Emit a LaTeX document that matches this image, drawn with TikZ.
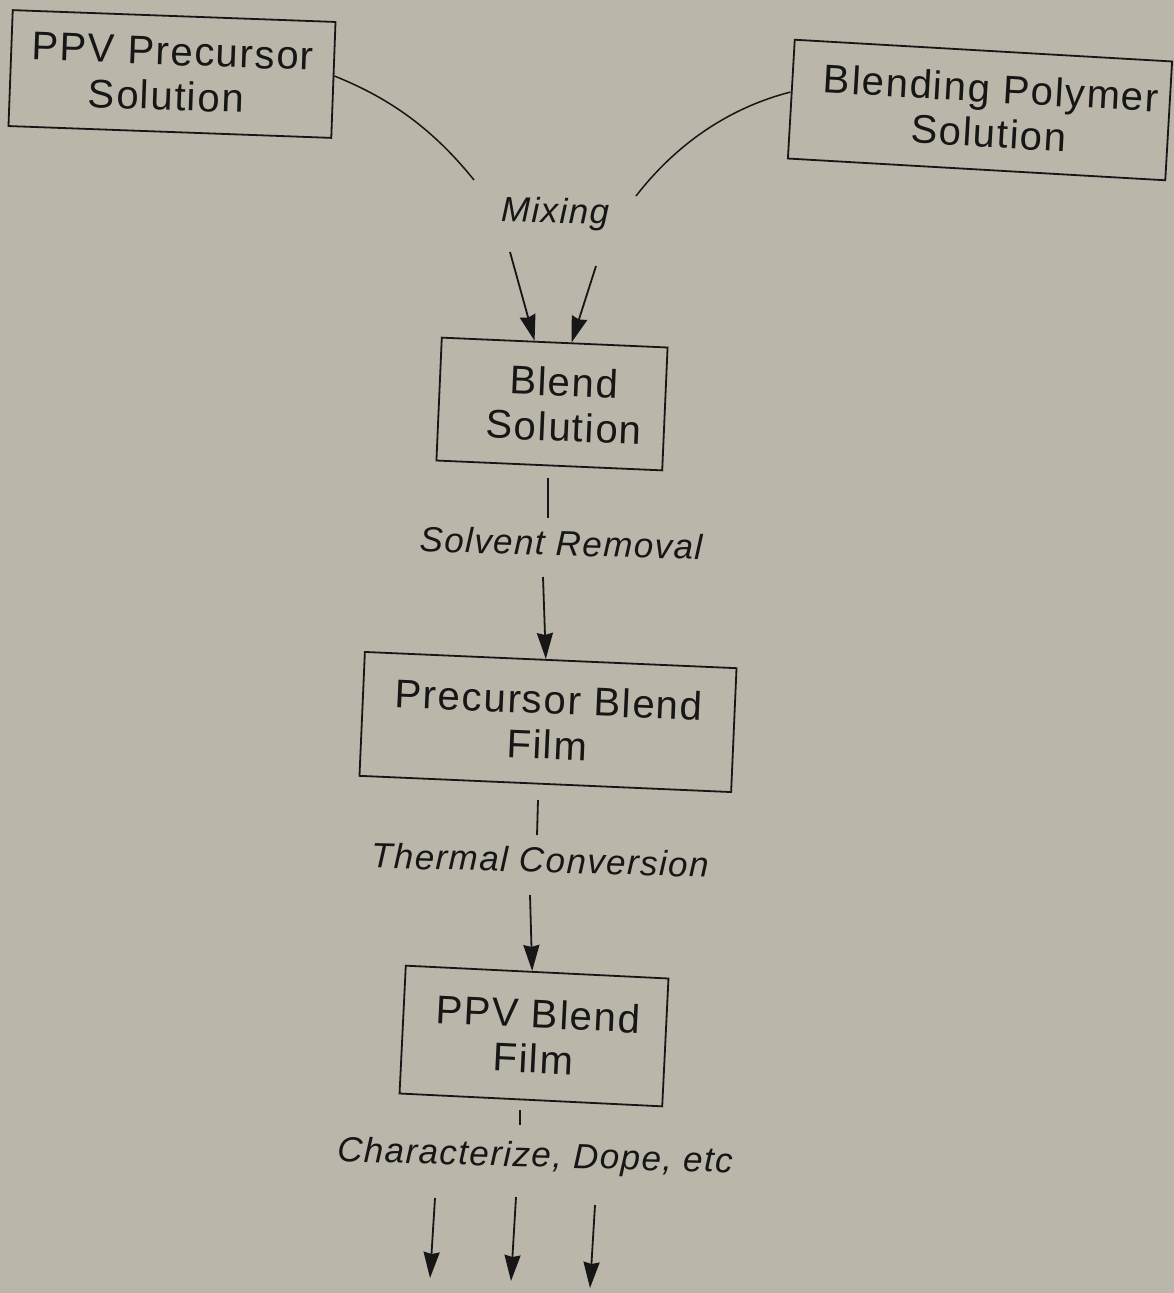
\documentclass[tikz,border=0pt]{standalone}
\usepackage{fontspec}
\setmainfont[LetterSpace=4]{Liberation Sans}
\usetikzlibrary{arrows.meta,calc}
\definecolor{paper}{RGB}{187,182,170}
\definecolor{ink}{RGB}{22,22,22}
\begin{document}
\begin{tikzpicture}[x=1pt,y=-1pt,
  box/.style={draw=ink, line width=1.8pt, inner sep=0pt, align=center,
    font=\fontsize{40}{45}\selectfont, text=ink},
  lab/.style={font=\fontsize{35}{40}\selectfont\itshape, text=ink, inner sep=2pt},
  link/.style={draw=ink, line width=1.5pt},
  tick/.style={draw=ink, line width=1.8pt},
  arr/.style={draw=ink, line width=1.8pt, -{Stealth[length=26pt,width=16pt,inset=2pt]}}]
\fill[paper] (0,0) rectangle (1174,1293);
\useasboundingbox (0,0) rectangle (1174,1293);

% boxes
\node[box, minimum width=323pt, minimum height=116pt, rotate=-2.1] (ppv) at (172,74) {PPV Precursor\\\hspace*{-10pt}Solution};
\node[box, minimum width=378pt, minimum height=119pt, rotate=-3.3] (bps) at (980,110) {\hspace*{20pt}Blending Polymer\\\hspace*{20pt}Solution};
\node[box, minimum width=226pt, minimum height=123pt, rotate=-2.5] (bs) at (552,404) {\hspace*{22pt}Blend\\\hspace*{26pt}Solution};
\node[box, minimum width=372pt, minimum height=124pt, rotate=-2.5] (pbf) at (548,722) {Precursor Blend\\Film};
\node[box, minimum width=263pt, minimum height=128pt, rotate=-2.8] (pf) at (534,1036) {\hspace*{6pt}PPV Blend\\Film};

% labels
\node[lab, rotate=-1.2] (mix) at (555,214) {Mixing};
\node[lab, rotate=-1.6] (solv) at (561,543) {Solvent Removal};
\node[lab, rotate=-1.6] (therm) at (540,860) {Thermal Conversion};
\node[lab, rotate=-1.6] (char) at (535,1158) {Characterize, Dope, etc};

% free ends
\coordinate (mL) at (474,180);
\coordinate (mR) at (636,196);
\coordinate (a1) at (510,252);
\coordinate (a2) at (596,266);
\coordinate (t1a) at (548,478);
\coordinate (t1b) at (548,518);
\coordinate (s1) at (543,577);
\coordinate (t2a) at (538,800);
\coordinate (t2b) at (537,835);
\coordinate (s2) at (530,895);
\coordinate (t3a) at (520,1110);
\coordinate (t3b) at (520,1125);
\coordinate (b1) at (435,1198);
\coordinate (b1e) at (430,1278);
\coordinate (b2) at (516,1197);
\coordinate (b2e) at (511,1281);
\coordinate (b3) at (595,1205);
\coordinate (b3e) at (590,1288);

% connectors
\draw[link] ($(ppv.east)+(0,-4)$) .. controls (384,96) and (429,124) .. (mL);
\draw[link] ($(bps.west)+(0,-7)$) .. controls (736,106) and (681,138) .. (mR);
\draw[arr] (a1) -- (bs);
\draw[arr] (a2) -- (bs);
\draw[tick] (t1a) -- (t1b);
\draw[arr] (s1) -- (pbf);
\draw[tick] (t2a) -- (t2b);
\draw[arr] (s2) -- (pf);
\draw[tick] (t3a) -- (t3b);
\draw[arr] (b1) -- (b1e);
\draw[arr] (b2) -- (b2e);
\draw[arr] (b3) -- (b3e);
\end{tikzpicture}
\end{document}
